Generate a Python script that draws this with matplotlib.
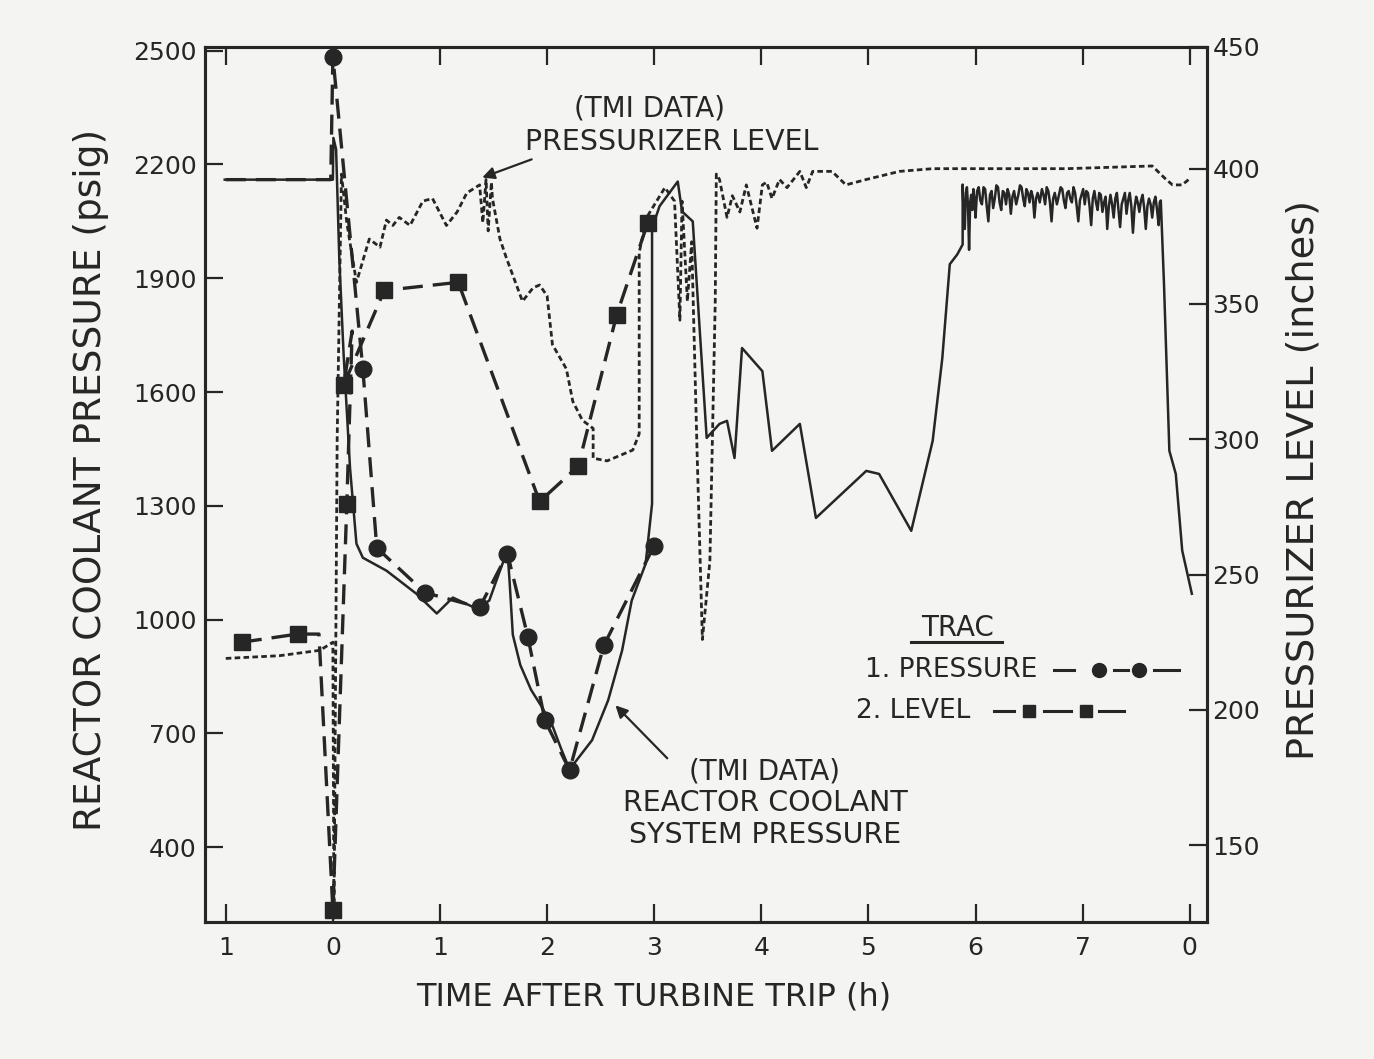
import numpy as np
import matplotlib.pyplot as plt

# TMI data: reactor coolant system pressure (psig) vs time (h), before the 6 h plateau
tmi_p_t_head = [-1.01, -0.02, 0.0, 0.005, 0.03, 0.06, 0.10, 0.16, 0.22, 0.28, 0.50, 0.78,
                0.97, 1.12, 1.34, 1.46, 1.56, 1.63, 1.65, 1.68, 1.75, 1.85, 1.95, 2.05,
                2.13, 2.21, 2.42, 2.57, 2.70, 2.79, 2.92, 2.98, 2.98, 2.98, 3.05, 3.22,
                3.26, 3.36, 3.49, 3.61, 3.68, 3.75, 3.82, 4.01, 4.10, 4.36, 4.51, 4.98,
                5.10, 5.40, 5.60, 5.69, 5.76, 5.83, 5.88]
tmi_p_v_head = [2160, 2160, 2160, 2270, 2240, 1950, 1700, 1400, 1200, 1163, 1129, 1068,
                1016, 1058, 1029, 1050, 1129, 1182, 1100, 960, 880, 815, 770, 720,
                660, 605, 682, 787, 918, 1050, 1147, 1305, 1760, 2032, 2090, 2155,
                2076, 2050, 1479, 1516, 1524, 1426, 1716, 1655, 1445, 1516, 1268, 1392,
                1384, 1234, 1471, 1689, 1937, 1963, 1989]
# noisy plateau around 2100 psig (6 h to 7.7 h)
plateau_t = [5.88, 5.89, 5.90, 5.91, 5.92, 5.93, 5.94, 5.95, 5.96, 5.97, 5.98, 5.99, 6.00,
             6.015, 6.03, 6.045, 6.06, 6.075, 6.09, 6.105, 6.12, 6.135, 6.15, 6.165, 6.18,
             6.195, 6.21, 6.225, 6.24, 6.255, 6.27, 6.285, 6.30, 6.315, 6.33, 6.345, 6.36,
             6.38, 6.40, 6.415, 6.43, 6.445, 6.46, 6.475, 6.49, 6.505, 6.52, 6.535, 6.55,
             6.565, 6.58, 6.60, 6.62, 6.635, 6.65, 6.665, 6.68, 6.695, 6.71, 6.725, 6.74,
             6.76, 6.78, 6.795, 6.81, 6.825, 6.84, 6.855, 6.87, 6.885, 6.90, 6.915, 6.93,
             6.945, 6.96, 6.975, 6.99, 7.005, 7.02, 7.035, 7.05, 7.065, 7.08, 7.095, 7.11,
             7.125, 7.14, 7.155, 7.17, 7.185, 7.20, 7.215, 7.23, 7.245, 7.26, 7.275, 7.29,
             7.305, 7.32, 7.335, 7.35, 7.365, 7.38, 7.395, 7.41, 7.425, 7.44, 7.455, 7.47,
             7.485, 7.50, 7.515, 7.53, 7.545, 7.56, 7.575, 7.59, 7.605, 7.62, 7.635, 7.65,
             7.665, 7.68, 7.695, 7.71, 7.72, 7.73]
plateau_v = [2147, 2060, 2030, 2125, 2140, 2090, 1975, 2100, 2120, 2080, 2135, 2110, 2060,
             2130, 2140, 2105, 2095, 2140, 2135, 2090, 2050, 2120, 2130, 2085, 2110,
             2145, 2140, 2100, 2080, 2130, 2125, 2095, 2135, 2120, 2070, 2115, 2130,
             2095, 2120, 2145, 2140, 2110, 2090, 2135, 2125, 2100, 2130, 2115, 2060,
             2110, 2125, 2100, 2135, 2120, 2095, 2140, 2130, 2100, 2050, 2110, 2125,
             2095, 2120, 2140, 2135, 2105, 2085, 2125, 2130, 2110, 2100, 2140, 2125,
             2090, 2050, 2105, 2120, 2135, 2095, 2130, 2125, 2090, 2040, 2110, 2130,
             2100, 2080, 2125, 2120, 2075, 2100, 2115, 2030, 2090, 2120, 2095, 2060,
             2110, 2125, 2080, 2035, 2095, 2110, 2125, 2070, 2105, 2125, 2090, 2020,
             2085, 2115, 2100, 2075, 2105, 2120, 2085, 2030, 2090, 2110, 2095, 2060,
             2100, 2115, 2080, 2040, 2100, 2105]
tmi_p_t_tail = [7.76, 7.81, 7.87, 7.93, 8.02]
tmi_p_v_tail = [1884, 1445, 1384, 1182, 1068]

# TMI data: pressurizer level (inches) vs time (h)
tmi_l_t = [-1.0, -0.5, -0.12, -0.04, 0.0, 0.01, 0.04, 0.08, 0.13, 0.22, 0.25, 0.34, 0.44,
           0.50, 0.56, 0.62, 0.72, 0.84, 0.93, 1.06, 1.16, 1.25, 1.37, 1.40, 1.43, 1.45,
           1.48, 1.49, 1.56, 1.62, 1.77, 1.87, 1.93, 2.00, 2.05, 2.18, 2.24, 2.33, 2.43,
           2.43, 2.56, 2.80, 2.86, 2.86, 2.93, 3.10, 3.19, 3.24, 3.26, 3.31, 3.35, 3.40,
           3.45, 3.52, 3.57, 3.58, 3.61, 3.68, 3.73, 3.80, 3.86, 3.96, 4.01, 4.05, 4.10,
           4.17, 4.24, 4.36, 4.42, 4.48, 4.66, 4.79, 4.98, 5.29, 5.60, 5.91, 6.85, 7.65,
           7.78, 7.84, 7.93, 7.99]
tmi_l_v = [219, 220, 222, 224, 225, 123, 300, 398, 380, 358, 362, 374, 371,
           381, 379, 382, 379, 388, 389, 379, 384, 391, 394, 380, 396, 377,
           395, 389, 374, 367, 351, 356, 357, 353, 335, 326, 314, 307, 304,
           293, 292, 296, 302, 369, 382, 393, 388, 344, 388, 351, 373, 296,
           226, 255, 351, 398, 396, 382, 390, 384, 394, 378, 394, 395, 389,
           396, 393, 399, 393, 399, 399, 394, 396, 399, 400, 400, 400, 401,
           396, 394, 394, 396]

# TRAC calculation: pressure (psig), circles
trac_p_t = [-1.0, -0.02, 0.0, 0.28, 0.41, 0.86, 1.37, 1.63, 1.82, 1.98, 2.21, 2.53, 3.0]
trac_p_v = [2160, 2160, 2484, 1660, 1189, 1071, 1032, 1174, 955, 734, 603, 932, 1195]
trac_p_marks = [2, 3, 4, 5, 6, 7, 8, 9, 10, 11, 12]

# TRAC calculation: pressurizer level (inches), squares
trac_l_t = [-0.85, -0.33, -0.13, 0.0, 0.13, 0.18, 0.10, 0.48, 1.17, 1.93, 2.29, 2.65, 2.94]
trac_l_v = [225, 228, 228, 126, 276, 340, 320, 355, 358, 277, 290, 346, 380]
trac_l_marks = [0, 1, 3, 4, 6, 7, 8, 9, 10, 11, 12]

x_ticks = [-1, 0, 1, 2, 3, 4, 5, 6, 7, 8]
x_ticklabels = ['1', '0', '1', '2', '3', '4', '5', '6', '7', '0']
p_ticks = [400, 700, 1000, 1300, 1600, 1900, 2200, 2500]
l_ticks = [150, 200, 250, 300, 350, 400, 445]
l_ticklabels = ['150', '200', '250', '300', '350', '400', '450']

ink = '#262626'
paper = '#f4f4f2'
plt.rcParams['font.family'] = ['DejaVu Sans']

fig = plt.figure(figsize=(13.74, 10.59), dpi=100, facecolor=paper)
ax = fig.add_axes([0.1492, 0.1294, 0.7293, 0.8263], facecolor=paper)
ax2 = ax.twinx()

tmi_p_t = tmi_p_t_head + plateau_t + tmi_p_t_tail
tmi_p_v = tmi_p_v_head + plateau_v + tmi_p_v_tail
ax.plot(tmi_p_t, tmi_p_v, color=ink, lw=1.8)
ax.plot(trac_p_t, trac_p_v, color=ink, lw=2.4, dashes=(6, 3),
        marker='o', ms=12, markevery=trac_p_marks, mfc=ink, mec=ink)
ax2.plot(tmi_l_t, tmi_l_v, color=ink, lw=2.0, dashes=(2, 1.2))
ax2.plot(trac_l_t, trac_l_v, color=ink, lw=2.4, dashes=(6, 3),
         marker='s', ms=12, markevery=trac_l_marks, mfc=ink, mec=ink)

ax.set_xlim(-1.194, 8.162)
ax.set_ylim(202.6, 2510)
ax2.set_ylim(121.6, 445)

ax.set_xticks(x_ticks)
ax.set_xticklabels(x_ticklabels)
ax.set_yticks(p_ticks)
ax2.set_yticks(l_ticks)
ax2.set_yticklabels(l_ticklabels)

ax.tick_params(axis='both', direction='in', length=13, width=1.6, colors=ink,
               labelsize=18, top=True)
ax.tick_params(axis='x', pad=10)
ax.tick_params(axis='y', pad=6)
ax2.tick_params(axis='y', direction='in', length=13, width=1.6, colors=ink,
                labelsize=18, pad=4)
for a in (ax, ax2):
    for s in a.spines.values():
        s.set_color(ink)
        s.set_linewidth(2.2)

fig.text(0.0662, 0.5467, 'REACTOR COOLANT PRESSURE (psig)', rotation=90,
         ha='center', va='center', fontsize=27, color=ink)
fig.text(0.949, 0.5467, 'PRESSURIZER LEVEL (inches)', rotation=90,
         ha='center', va='center', fontsize=27.5, color=ink)
fig.text(0.476, 0.0585, 'TIME AFTER TURBINE TRIP (h)', ha='center', va='center',
         fontsize=23, color=ink)

# annotations
ax.text(2.96, 2347, '(TMI DATA)', ha='center', va='center', fontsize=20, color=ink)
ax.text(3.16, 2260, 'PRESSURIZER LEVEL', ha='center', va='center', fontsize=20.5, color=ink)
ax.annotate('', xy=(1.37, 2163), xytext=(1.88, 2216),
            arrowprops=dict(arrowstyle='-|>', color=ink, lw=1.6, mutation_scale=18))
ax.text(4.03, 600, '(TMI DATA)', ha='center', va='center', fontsize=20, color=ink)
ax.text(4.04, 516, 'REACTOR COOLANT', ha='center', va='center', fontsize=20.5, color=ink)
ax.text(4.04, 432, 'SYSTEM PRESSURE', ha='center', va='center', fontsize=20.5, color=ink)
ax.annotate('', xy=(2.62, 779), xytext=(3.14, 629),
            arrowprops=dict(arrowstyle='-|>', color=ink, lw=1.6, mutation_scale=18))

# legend
ax.text(5.83, 979, 'TRAC', ha='center', va='center', fontsize=20, color=ink)
ax.plot([5.40, 6.25], [942, 942], color=ink, lw=2.2)
ax.text(4.97, 866, '1. PRESSURE', ha='left', va='center', fontsize=19, color=ink)
ax.text(4.88, 760, '2. LEVEL', ha='left', va='center', fontsize=19, color=ink)
for seg in ([6.735, 6.92], [7.29, 7.42], [7.67, 7.90]):
    ax.plot(seg, [866, 866], color=ink, lw=2.2)
ax.plot([7.155, 7.53], [866, 866], ls='none', marker='o', ms=10, color=ink)
for seg in ([6.175, 6.36], [6.64, 6.89], [7.155, 7.39]):
    ax.plot(seg, [760, 760], color=ink, lw=2.2)
ax.plot([6.50, 7.03], [760, 760], ls='none', marker='s', ms=9, color=ink)

fig.savefig('out.png', dpi=100, facecolor=paper)
